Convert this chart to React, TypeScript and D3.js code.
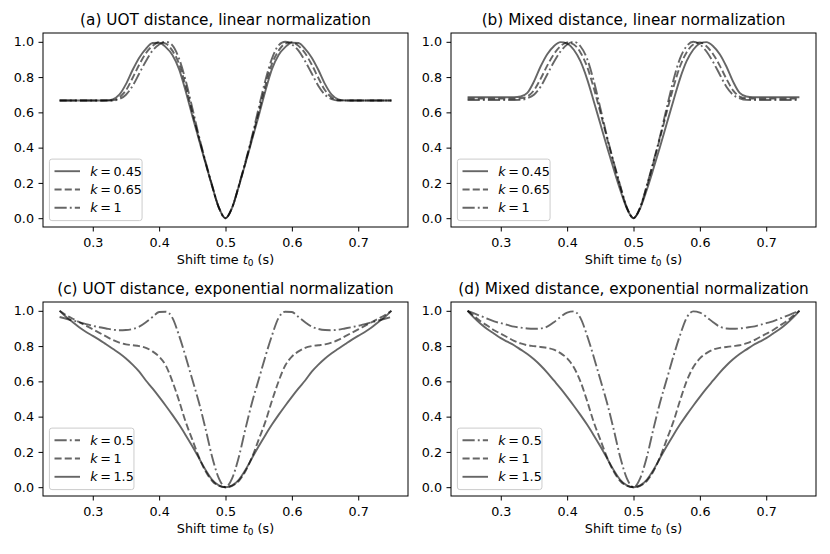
import React, { useEffect, useRef } from 'react';
import * as d3 from 'd3';

// shift time t0 (s), shared by every curve
const shiftTimes = [
  0.25, 0.26, 0.27, 0.28, 0.29, 0.3, 0.31, 0.32, 0.33, 0.34, 0.35, 0.36, 0.37, 0.38, 0.39, 0.4, 0.41,
  0.42, 0.43, 0.44, 0.45, 0.46, 0.47, 0.48, 0.49, 0.5, 0.51, 0.52, 0.53, 0.54, 0.55, 0.56, 0.57, 0.58,
  0.59, 0.6, 0.61, 0.62, 0.63, 0.64, 0.65, 0.66, 0.67, 0.68, 0.69, 0.7, 0.71, 0.72, 0.73, 0.74, 0.75,
];

// (a) UOT distance, linear normalization
const uotLinK045 = [
  0.667, 0.667, 0.667, 0.667, 0.667, 0.667, 0.667, 0.668, 0.674, 0.7, 0.76, 0.84, 0.91, 0.96, 0.993, 0.995, 0.97,
  0.925, 0.845, 0.72, 0.58, 0.445, 0.31, 0.18, 0.06, 0.0, 0.06, 0.18, 0.31, 0.445, 0.58, 0.72, 0.845, 0.925,
  0.97, 0.995, 0.993, 0.96, 0.91, 0.84, 0.76, 0.7, 0.674, 0.668, 0.667, 0.667, 0.667, 0.667, 0.667, 0.667, 0.667,
];
const uotLinK065 = [
  0.667, 0.667, 0.667, 0.667, 0.667, 0.667, 0.667, 0.667, 0.668, 0.685, 0.725, 0.795, 0.87, 0.935, 0.977, 0.998, 0.99,
  0.95, 0.875, 0.75, 0.6, 0.455, 0.315, 0.18, 0.06, 0.0, 0.06, 0.18, 0.315, 0.455, 0.6, 0.75, 0.875, 0.95,
  0.99, 0.998, 0.977, 0.935, 0.87, 0.795, 0.725, 0.685, 0.668, 0.667, 0.667, 0.667, 0.667, 0.667, 0.667, 0.667, 0.667,
];
const uotLinK1 = [
  0.667, 0.667, 0.667, 0.667, 0.667, 0.667, 0.667, 0.667, 0.667, 0.675, 0.7, 0.75, 0.82, 0.89, 0.95, 0.985, 1.0,
  0.98, 0.905, 0.78, 0.625, 0.465, 0.32, 0.185, 0.06, 0.0, 0.06, 0.185, 0.32, 0.465, 0.625, 0.78, 0.905, 0.98,
  1.0, 0.985, 0.95, 0.89, 0.82, 0.75, 0.7, 0.675, 0.667, 0.667, 0.667, 0.667, 0.667, 0.667, 0.667, 0.667, 0.667,
];

// (b) Mixed distance, linear normalization
const mixLinK045 = [
  0.686, 0.686, 0.686, 0.686, 0.686, 0.686, 0.686, 0.686, 0.69, 0.71, 0.775, 0.86, 0.93, 0.975, 0.998, 0.99, 0.955,
  0.89, 0.79, 0.665, 0.535, 0.405, 0.28, 0.16, 0.055, 0.0, 0.055, 0.16, 0.28, 0.405, 0.535, 0.665, 0.79, 0.89,
  0.955, 0.99, 0.998, 0.975, 0.93, 0.86, 0.775, 0.71, 0.69, 0.686, 0.686, 0.686, 0.686, 0.686, 0.686, 0.686, 0.686,
];
const mixLinK065 = [
  0.678, 0.678, 0.678, 0.678, 0.678, 0.678, 0.678, 0.678, 0.68, 0.69, 0.725, 0.79, 0.865, 0.93, 0.975, 0.997, 0.985,
  0.94, 0.86, 0.74, 0.6, 0.455, 0.315, 0.18, 0.06, 0.0, 0.06, 0.18, 0.315, 0.455, 0.6, 0.74, 0.86, 0.94,
  0.985, 0.997, 0.975, 0.93, 0.865, 0.79, 0.725, 0.69, 0.68, 0.678, 0.678, 0.678, 0.678, 0.678, 0.678, 0.678, 0.678,
];
const mixLinK1 = [
  0.67, 0.67, 0.67, 0.67, 0.67, 0.67, 0.67, 0.67, 0.671, 0.68, 0.7, 0.745, 0.815, 0.885, 0.945, 0.985, 1.0,
  0.975, 0.905, 0.78, 0.625, 0.465, 0.32, 0.185, 0.06, 0.0, 0.06, 0.185, 0.32, 0.465, 0.625, 0.78, 0.905, 0.975,
  1.0, 0.985, 0.945, 0.885, 0.815, 0.745, 0.7, 0.68, 0.671, 0.67, 0.67, 0.67, 0.67, 0.67, 0.67, 0.67, 0.67,
];

// (c) UOT distance, exponential normalization
const uotExpK05 = [
  0.965, 0.955, 0.945, 0.935, 0.925, 0.915, 0.907, 0.9, 0.893, 0.89, 0.891, 0.897, 0.91, 0.935, 0.965, 0.993, 0.995,
  0.96, 0.86, 0.74, 0.61, 0.48, 0.33, 0.17, 0.05, 0.0, 0.05, 0.17, 0.33, 0.48, 0.61, 0.74, 0.86, 0.96,
  0.995, 0.993, 0.965, 0.935, 0.91, 0.897, 0.891, 0.89, 0.893, 0.9, 0.907, 0.915, 0.925, 0.935, 0.945, 0.955, 0.965,
];
const uotExpK1 = [
  1.0, 0.975, 0.955, 0.935, 0.915, 0.895, 0.875, 0.855, 0.835, 0.82, 0.81, 0.805, 0.8, 0.79, 0.77, 0.74, 0.69,
  0.6, 0.49, 0.37, 0.27, 0.17, 0.09, 0.035, 0.008, 0.0, 0.008, 0.035, 0.09, 0.17, 0.27, 0.37, 0.49, 0.6,
  0.69, 0.74, 0.77, 0.79, 0.8, 0.805, 0.81, 0.82, 0.835, 0.855, 0.875, 0.895, 0.915, 0.935, 0.955, 0.975, 1.0,
];
const uotExpK15 = [
  1.0, 0.965, 0.935, 0.905, 0.88, 0.858, 0.835, 0.81, 0.785, 0.76, 0.73, 0.695, 0.655, 0.605, 0.56, 0.512, 0.462,
  0.41, 0.355, 0.295, 0.232, 0.165, 0.098, 0.042, 0.01, 0.0, 0.01, 0.042, 0.098, 0.165, 0.232, 0.295, 0.355, 0.41,
  0.462, 0.512, 0.56, 0.605, 0.655, 0.695, 0.73, 0.76, 0.785, 0.81, 0.835, 0.858, 0.88, 0.905, 0.935, 0.965, 1.0,
];

// (d) Mixed distance, exponential normalization
const mixExpK05 = [
  1.0, 0.985, 0.97, 0.955, 0.94, 0.93, 0.92, 0.91, 0.905, 0.9, 0.898, 0.9, 0.91, 0.935, 0.965, 0.99, 0.997,
  0.96, 0.86, 0.74, 0.61, 0.48, 0.33, 0.17, 0.05, 0.0, 0.05, 0.17, 0.33, 0.48, 0.61, 0.74, 0.86, 0.96,
  0.997, 0.99, 0.965, 0.935, 0.91, 0.9, 0.898, 0.9, 0.905, 0.91, 0.92, 0.93, 0.94, 0.955, 0.97, 0.985, 1.0,
];
const mixExpK1 = [
  1.0, 0.97, 0.94, 0.915, 0.89, 0.87, 0.85, 0.83, 0.815, 0.805, 0.8, 0.795, 0.79, 0.78, 0.76, 0.73, 0.68,
  0.6, 0.49, 0.37, 0.27, 0.17, 0.09, 0.035, 0.008, 0.0, 0.008, 0.035, 0.09, 0.17, 0.27, 0.37, 0.49, 0.6,
  0.68, 0.73, 0.76, 0.78, 0.79, 0.795, 0.8, 0.805, 0.815, 0.83, 0.85, 0.87, 0.89, 0.915, 0.94, 0.97, 1.0,
];
const mixExpK15 = [
  1.0, 0.96, 0.925, 0.895, 0.87, 0.845, 0.825, 0.805, 0.78, 0.755, 0.725, 0.69, 0.65, 0.605, 0.56, 0.512, 0.462,
  0.41, 0.355, 0.295, 0.232, 0.165, 0.098, 0.042, 0.01, 0.0, 0.01, 0.042, 0.098, 0.165, 0.232, 0.295, 0.355, 0.41,
  0.462, 0.512, 0.56, 0.605, 0.65, 0.69, 0.725, 0.755, 0.78, 0.805, 0.825, 0.845, 0.87, 0.895, 0.925, 0.96, 1.0,
];

const xTicks = [0.3, 0.4, 0.5, 0.6, 0.7];
const yTicks = [0.0, 0.2, 0.4, 0.6, 0.8, 1.0];

const titles = [
  '(a) UOT distance, linear normalization',
  '(b) Mixed distance, linear normalization',
  '(c) UOT distance, exponential normalization',
  '(d) Mixed distance, exponential normalization',
];
const linearLabels = ['0.45', '0.65', '1'];
const expLabels = ['0.5', '1', '1.5'];

const FONT = 'DejaVu Sans, sans-serif';
const DASHED = '7.1,3.1';
const DASHDOT = '12.2,3.1,1.9,3.1';

const App = () => {
  const svgRef: any = useRef();

  useEffect(() => {
    const svg = d3.select(svgRef.current);
    svg.selectAll('*').remove();

    const panels = [
      { left: 43, top: 33, title: titles[0], series: [
        { values: uotLinK045, dash: null, label: linearLabels[0] },
        { values: uotLinK065, dash: DASHED, label: linearLabels[1] },
        { values: uotLinK1, dash: DASHDOT, label: linearLabels[2] },
      ] },
      { left: 451, top: 33, title: titles[1], series: [
        { values: mixLinK045, dash: null, label: linearLabels[0] },
        { values: mixLinK065, dash: DASHED, label: linearLabels[1] },
        { values: mixLinK1, dash: DASHDOT, label: linearLabels[2] },
      ] },
      { left: 43, top: 302, title: titles[2], series: [
        { values: uotExpK05, dash: DASHDOT, label: expLabels[0] },
        { values: uotExpK1, dash: DASHED, label: expLabels[1] },
        { values: uotExpK15, dash: null, label: expLabels[2] },
      ] },
      { left: 451, top: 302, title: titles[3], series: [
        { values: mixExpK05, dash: DASHDOT, label: expLabels[0] },
        { values: mixExpK1, dash: DASHED, label: expLabels[1] },
        { values: mixExpK15, dash: null, label: expLabels[2] },
      ] },
    ];

    const w = 365;
    const h = 194;

    panels.forEach((p) => {
      const x = d3.scaleLinear().domain([0.225, 0.775]).range([p.left, p.left + w]);
      const y = d3.scaleLinear().domain([-0.05, 1.05]).range([p.top + h, p.top]);
      const g = svg.append('g');

      // curves
      p.series.forEach((s) => {
        const line = d3.line<number>()
          .x((_, i) => x(shiftTimes[i]))
          .y((d) => y(d))
          .curve(d3.curveMonotoneX);
        g.append('path')
          .attr('d', line(s.values))
          .attr('fill', 'none')
          .attr('stroke', '#000')
          .attr('stroke-opacity', 0.6)
          .attr('stroke-width', 1.9)
          .attr('stroke-dasharray', s.dash);
      });

      // axes
      const xAxis = g.append('g')
        .attr('transform', `translate(0,${p.top + h})`)
        .call(d3.axisBottom(x).tickValues(xTicks).tickSize(4.5).tickPadding(6.3).tickFormat(d3.format('.1f')));
      const yAxis = g.append('g')
        .attr('transform', `translate(${p.left},0)`)
        .call(d3.axisLeft(y).tickValues(yTicks).tickSize(4.5).tickPadding(4.5).tickFormat(d3.format('.1f')));
      [xAxis, yAxis].forEach((ax) => {
        ax.select('.domain').remove();
        ax.selectAll('line').attr('stroke', '#000').attr('stroke-width', 1);
        ax.selectAll('text').attr('font-family', FONT).attr('font-size', 12.75).attr('fill', '#000');
      });

      // frame
      g.append('rect')
        .attr('x', p.left).attr('y', p.top)
        .attr('width', w).attr('height', h)
        .attr('fill', 'none').attr('stroke', '#000').attr('stroke-width', 1);

      // title
      g.append('text')
        .attr('x', p.left + w / 2).attr('y', p.top - 7.6)
        .attr('text-anchor', 'middle')
        .attr('font-family', FONT).attr('font-size', 15.3)
        .text(p.title);

      // x label
      const xl = g.append('text')
        .attr('x', p.left + w / 2).attr('y', p.top + h + 36.5)
        .attr('text-anchor', 'middle')
        .attr('font-family', FONT).attr('font-size', 12.75);
      xl.append('tspan').text('Shift time ');
      xl.append('tspan').attr('font-style', 'italic').text('t');
      xl.append('tspan').attr('font-size', 9).attr('dy', 2.5).text('0');
      xl.append('tspan').attr('dy', -2.5).text(' (s)');

      // legend
      const lg = g.append('g');
      const box = lg.append('rect');
      const bottom = p.top + h - 6.4;
      const left = p.left + 6.4;
      const rowOffsets = [49.4, 31.1, 12.8];
      let maxText = 0;
      p.series.forEach((s, i) => {
        const cy = bottom - rowOffsets[i];
        lg.append('line')
          .attr('x1', left + 5.1).attr('x2', left + 30.6)
          .attr('y1', cy).attr('y2', cy)
          .attr('stroke', '#000').attr('stroke-opacity', 0.6)
          .attr('stroke-width', 1.9)
          .attr('stroke-dasharray', s.dash);
        const t = lg.append('text')
          .attr('x', left + 40.8).attr('y', cy + 4.4)
          .attr('font-family', FONT).attr('font-size', 12.75);
        t.append('tspan').attr('font-style', 'italic').text('k');
        t.append('tspan').attr('dx', 2.6).text('=');
        t.append('tspan').attr('dx', 2.6).text(s.label);
        const node: any = t.node();
        maxText = Math.max(maxText, node.getComputedTextLength());
      });
      box
        .attr('x', left).attr('y', bottom - 61.5)
        .attr('width', 40.8 + maxText + 5.4).attr('height', 61.5)
        .attr('rx', 2.5)
        .attr('fill', '#fff').attr('fill-opacity', 0.8)
        .attr('stroke', '#ccc').attr('stroke-width', 1);
    });
  }, []);

  return (
    <svg
      ref={svgRef}
      width={830}
      height={554}
      style={{ position: 'absolute', left: 0, top: 0, background: '#fff' }}
    />
  );
};

export default App;
